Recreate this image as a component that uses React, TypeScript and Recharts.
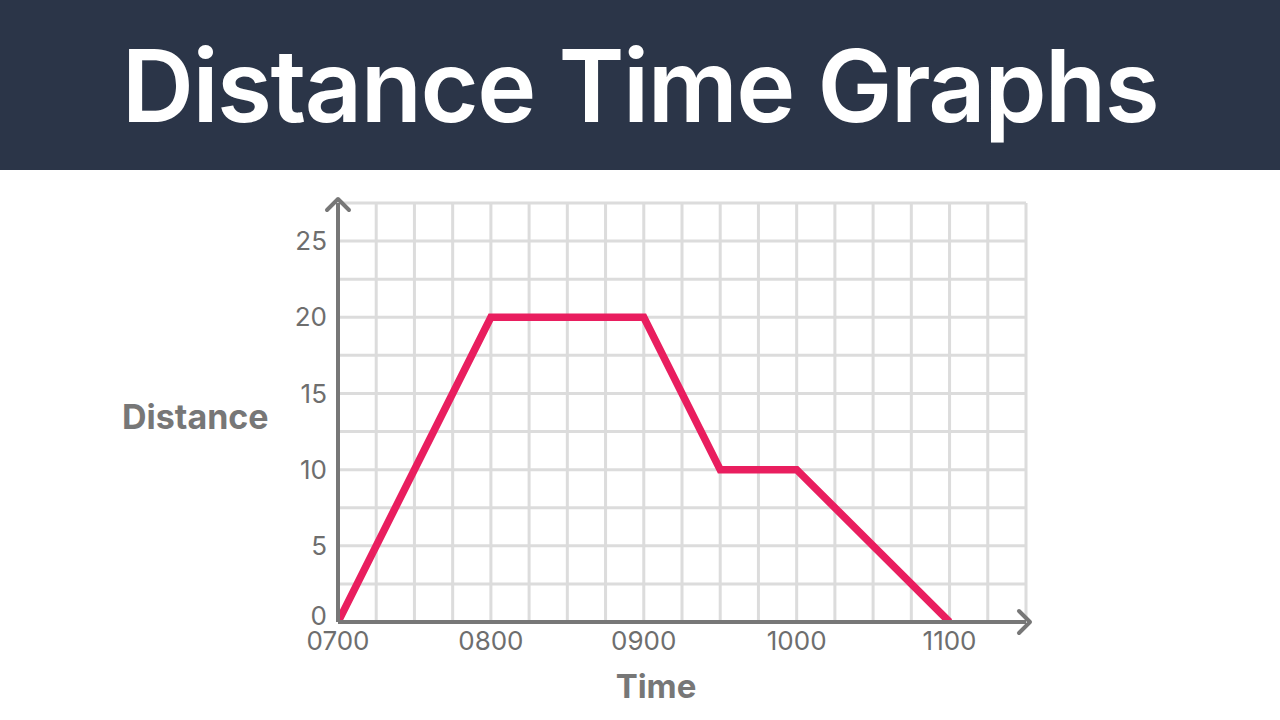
import React from 'react';
import {
  LineChart,
  Line,
  XAxis,
  YAxis,
  CartesianGrid,
  ReferenceDot,
} from 'recharts';

// minutes after 0700
const timeMinutes = [0, 60, 120, 150, 180, 240];
const distanceValues = [0, 20, 20, 10, 10, 0];

const xTicks = [0, 60, 120, 180, 240];
const xTickLabels = ['0700', '0800', '0900', '1000', '1100'];
const yTicks = [0, 5, 10, 15, 20, 25];

const xGridValues = [0, 15, 30, 45, 60, 75, 90, 105, 120, 135, 150, 165, 180, 195, 210, 225, 240, 255, 270];
const yGridValues = [0, 2.5, 5, 7.5, 10, 12.5, 15, 17.5, 20, 22.5, 25, 27.5];

const X_MAX = 270;
const Y_MAX = 27.5;

const AXIS = '#777777';
const TEXT = '#6e6e6e';
const FONT = 'Inter, "Noto Sans", sans-serif';

const chartData = timeMinutes.map((t, i) => ({ t, d: distanceValues[i] }));

// y tick: the zero label sits a little higher so it clears the 0700 label
const YTick = (props: any) => {
  const { x, y, payload } = props;
  const shift = payload.value === 0 ? -6 : 0;
  return (
    <text
      x={x}
      y={y + shift}
      dy="0.35em"
      textAnchor="end"
      fontSize={26}
      fill={TEXT}
      fontFamily={FONT}
    >
      {payload.value}
    </text>
  );
};

// arrowhead at the end of the y axis (points up)
const UpArrow = (props: any) => {
  const { cx, cy } = props;
  const tipY = cy - 4;
  return (
    <path
      d={`M ${cx - 11} ${tipY + 11} L ${cx} ${tipY} L ${cx + 11} ${tipY + 11}`}
      stroke={AXIS}
      strokeWidth={4}
      fill="none"
      strokeLinecap="round"
      strokeLinejoin="round"
    />
  );
};

// arrowhead at the end of the x axis (points right)
const RightArrow = (props: any) => {
  const { cx, cy } = props;
  const tipX = cx + 4;
  return (
    <path
      d={`M ${tipX - 11} ${cy - 11} L ${tipX} ${cy} L ${tipX - 11} ${cy + 11}`}
      stroke={AXIS}
      strokeWidth={4}
      fill="none"
      strokeLinecap="round"
      strokeLinejoin="round"
    />
  );
};

export default function App() {
  return (
    <div style={{ position: 'absolute', left: 0, top: 0, width: 1280, height: 720, background: '#FFFFFF', fontFamily: FONT }}>
      <div style={{
        position: 'absolute', left: 0, top: 0, width: 1280, height: 170,
        background: '#2b3548', color: '#FFFFFF',
        display: 'flex', alignItems: 'center', justifyContent: 'center',
        fontSize: 100, fontWeight: 600, letterSpacing: '-1.5px',
      }}>
        Distance Time Graphs
      </div>

      <div style={{
        position: 'absolute', left: 122, top: 396, fontSize: 34, fontWeight: 700, color: '#777777',
      }}>
        Distance
      </div>
      <div style={{
        position: 'absolute', left: 556, width: 200, top: 666, textAlign: 'center',
        fontSize: 33, fontWeight: 700, color: '#777777',
      }}>
        Time
      </div>

      <div style={{ position: 'absolute', left: 0, top: 170 }}>
        <LineChart
          width={1280}
          height={550}
          data={chartData}
          margin={{ top: 33, right: 254, bottom: 58, left: 278 }}
        >
          <CartesianGrid
            stroke="#dcdcdc"
            strokeWidth={3}
            verticalValues={xGridValues}
            horizontalValues={yGridValues}
          />
          <XAxis
            dataKey="t"
            type="number"
            domain={[0, X_MAX]}
            ticks={xTicks}
            tickFormatter={(v: number) => xTickLabels[xTicks.indexOf(v)]}
            height={40}
            tickLine={false}
            tickSize={0}
            tickMargin={10}
            axisLine={{ stroke: AXIS, strokeWidth: 4 }}
            tick={{ fontSize: 26, fill: TEXT, fontFamily: FONT }}
            allowDataOverflow
          />
          <YAxis
            type="number"
            domain={[0, Y_MAX]}
            ticks={yTicks}
            width={60}
            tickLine={false}
            tickSize={0}
            tickMargin={11}
            axisLine={{ stroke: AXIS, strokeWidth: 4 }}
            tick={<YTick />}
            allowDataOverflow
          />
          <Line
            type="linear"
            dataKey="d"
            stroke="#e91e5f"
            strokeWidth={7.5}
            strokeLinejoin="miter"
            dot={false}
            activeDot={false}
            isAnimationActive={false}
          />
          <ReferenceDot x={0} y={Y_MAX} r={0} ifOverflow="visible" shape={UpArrow} />
          <ReferenceDot x={X_MAX} y={0} r={0} ifOverflow="visible" shape={RightArrow} />
        </LineChart>
      </div>
    </div>
  );
}
